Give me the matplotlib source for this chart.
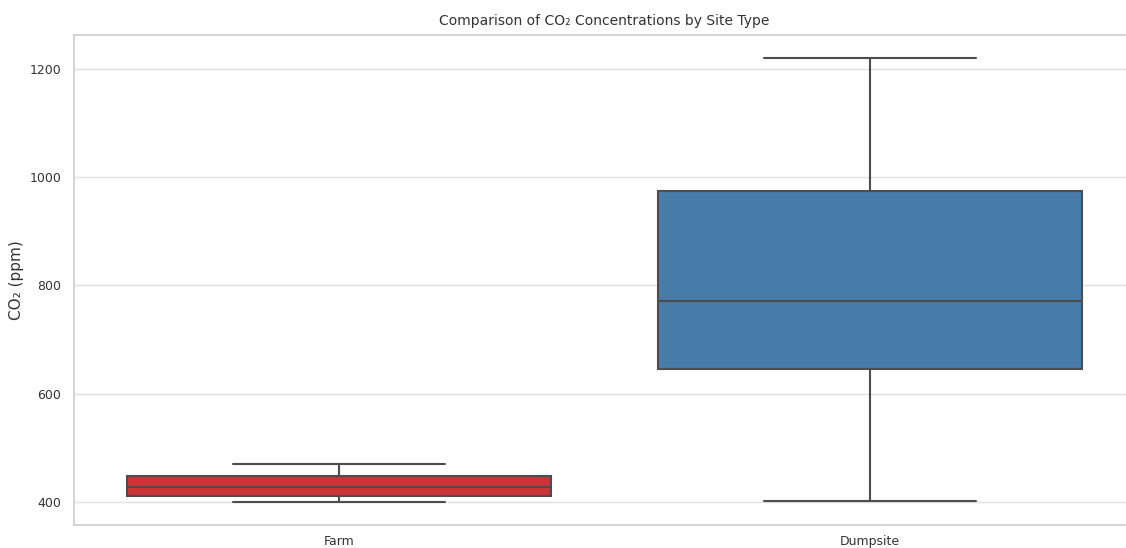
import matplotlib
matplotlib.use('Agg')
import matplotlib.pyplot as plt
import seaborn as sns
import numpy as np

sns.set_theme(style='whitegrid')
plt.rcParams['font.family'] = ['DejaVu Sans']

# summary statistics per site type (ppm)
sites = ['Farm', 'Dumpsite']
whisker_low = [400, 401]
q1 = [411, 645]
median = [428, 771]
q3 = [448, 975]
whisker_high = [470, 1220]
box_colors = sns.color_palette('Set1', 2, desat=0.75)

stats = []
for i, name in enumerate(sites):
    stats.append({'label': name, 'whislo': whisker_low[i], 'q1': q1[i], 'med': median[i],
                  'q3': q3[i], 'whishi': whisker_high[i], 'fliers': []})

fig = plt.figure(figsize=(11.26, 5.48), dpi=100)
# axes runs a little past the right edge of the canvas
ax = fig.add_axes([74 / 1126, 23 / 548, 1061 / 1126, 490 / 548])

line_kw = dict(color='#4d4d4d', linewidth=1.5)
bp = ax.bxp(stats, positions=np.arange(len(sites)), widths=0.8, patch_artist=True,
            boxprops=dict(edgecolor='#4d4d4d', linewidth=1.5),
            medianprops=line_kw, whiskerprops=line_kw, capprops=line_kw,
            capwidths=0.4, showfliers=False)
for patch, c in zip(bp['boxes'], box_colors):
    patch.set_facecolor(c)

ax.set_xlim(-0.5, 1.5)
ax.set_ylim(357, 1263)
ax.set_yticks([400, 600, 800, 1000, 1200])
ax.set_xticks(np.arange(len(sites)))
ax.set_xticklabels(sites)
ax.grid(axis='x', visible=False)
ax.grid(axis='y', color='#e0e0e0', linewidth=1)
ax.set_axisbelow(True)
for s in ax.spines.values():
    s.set_color('#d0d0d0')
ax.spines['right'].set_visible(False)
ax.tick_params(axis='both', labelsize=9, colors='#333333', pad=3)
ax.tick_params(axis='x', pad=1.5)
ax.set_ylabel('CO₂ (ppm)', fontsize=11, color='#333333')
ax.set_title('Comparison of CO₂ Concentrations by Site Type', fontsize=10, color='#333333', pad=7)

fig.savefig('out.png', dpi=100)
